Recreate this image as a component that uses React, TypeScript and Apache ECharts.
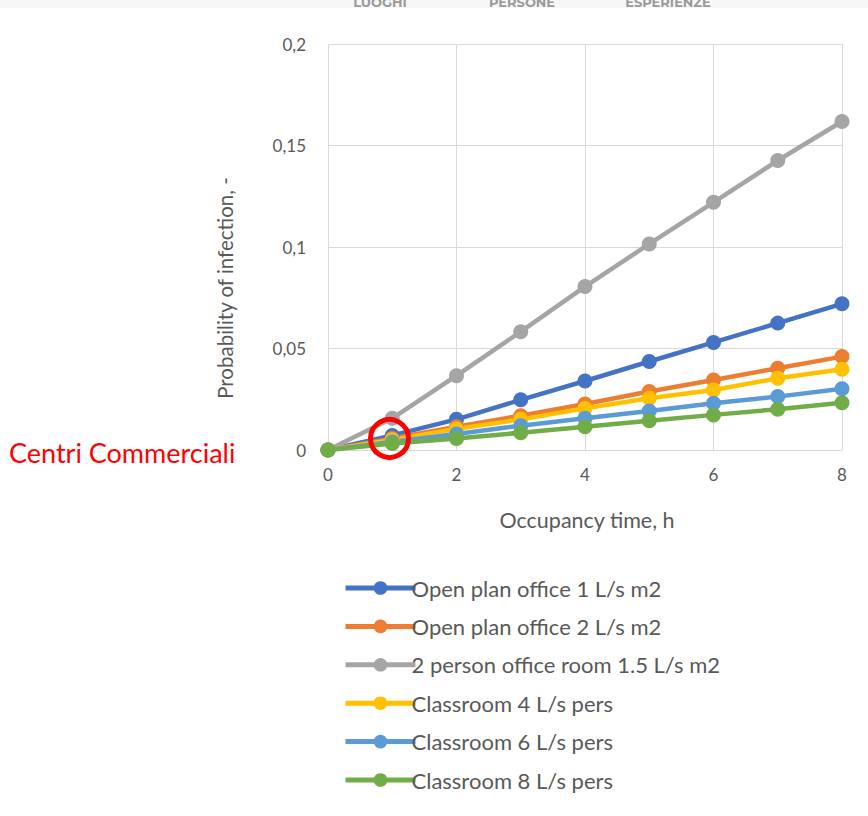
import React, { useEffect, useRef } from "react";
import * as echarts from "echarts";

const hours = [0, 1, 2, 3, 4, 5, 6, 7, 8];
const seriesNames = [
  "Open plan office 1 L/s m2",
  "Open plan office 2 L/s m2",
  "2 person office room 1.5 L/s m2",
  "Classroom 4 L/s pers",
  "Classroom 6 L/s pers",
  "Classroom 8 L/s pers",
];
const openPlan1 = [0, 0.0072, 0.0151, 0.0247, 0.034, 0.0436, 0.053, 0.0625, 0.072];
const openPlan2 = [0, 0.0057, 0.0115, 0.0169, 0.0227, 0.0288, 0.0345, 0.0403, 0.046];
const twoPerson = [0, 0.0156, 0.0366, 0.0583, 0.0805, 0.1015, 0.122, 0.1426, 0.1618];
const classroom4 = [0, 0.005, 0.0104, 0.0151, 0.0205, 0.0255, 0.0296, 0.0353, 0.0398];
const classroom6 = [0, 0.004, 0.0079, 0.012, 0.0156, 0.0192, 0.023, 0.0263, 0.0302];
const classroom8 = [0, 0.0032, 0.0057, 0.0085, 0.0115, 0.0144, 0.0173, 0.0201, 0.0233];
const seriesValues = [openPlan1, openPlan2, twoPerson, classroom4, classroom6, classroom8];
const seriesColors = ["#4472c4", "#ed7d31", "#a5a5a5", "#ffc000", "#5b9bd5", "#70ad47"];
const headerLabels = ["LUOGHI", "PERSONE", "ESPERIENZE"];
const headerX = [380, 522, 668];

const FONT = "Lato";
const TXT = "#595959";

export default function App() {
  const ref = useRef<HTMLDivElement>(null);
  useEffect(() => {
    if (!ref.current) return;
    const chart = echarts.init(ref.current, null, { renderer: "svg" });
    chart.setOption({
      animation: false,
      backgroundColor: "#ffffff",
      textStyle: { fontFamily: FONT },
      grid: { left: 328, right: 26, top: 44, bottom: 366, containLabel: false },
      xAxis: {
        type: "value",
        min: 0,
        max: 8,
        interval: 2,
        axisLine: { show: true, lineStyle: { color: "#d9d9d9", width: 1 } },
        axisTick: { show: false },
        splitLine: { show: true, lineStyle: { color: "#d9d9d9", width: 1 } },
        axisLabel: { color: TXT, fontSize: 17, margin: 16, fontFamily: FONT },
      },
      yAxis: {
        type: "value",
        min: 0,
        max: 0.2,
        interval: 0.05,
        axisLine: { show: false },
        axisTick: { show: false },
        splitLine: { show: true, lineStyle: { color: "#d9d9d9", width: 1 } },
        axisLabel: {
          color: TXT,
          fontSize: 17,
          margin: 22,
          fontFamily: FONT,
          formatter: (v: number) => String(Math.round(v * 100) / 100).replace(".", ","),
        },
      },
      legend: {
        orient: "vertical",
        left: 338,
        top: 572,
        itemWidth: 70,
        itemHeight: 17,
        itemGap: 16.4,
        lineStyle: { width: 5 },
        textStyle: { color: TXT, fontSize: 22, fontFamily: FONT, lineHeight: 20, padding: [0, 0, 0, -9] },
        data: seriesNames,
      },
      series: seriesNames.map((name, i) => ({
        name,
        type: "line",
        data: hours.map((h, j) => [h, seriesValues[i][j]]),
        symbol: "circle",
        symbolSize: 15,
        color: seriesColors[i],
        lineStyle: { width: 4.5, color: seriesColors[i] },
        itemStyle: { color: seriesColors[i] },
      })),
      graphic: [
        { type: "rect", shape: { x: 0, y: 0, width: 868, height: 8 }, style: { fill: "#f7f7f7" }, z: 0 },
        ...headerLabels.map((t, i) => ({
          type: "text",
          x: headerX[i],
          y: 2,
          style: {
            text: t,
            fill: "#9a9a9a",
            font: `bold 13px Montserrat, "Open Sans", sans-serif`,
            textAlign: "center",
            textVerticalAlign: "middle",
          },
        })),
        {
          type: "text",
          x: 225,
          y: 288,
          rotation: Math.PI / 2,
          style: {
            text: "Probability of infection, -",
            fill: TXT,
            font: `20.5px ${FONT}`,
            textAlign: "center",
            textVerticalAlign: "middle",
          },
        },
        {
          type: "text",
          x: 587,
          y: 520,
          style: {
            text: "Occupancy time, h",
            fill: TXT,
            font: `21.5px ${FONT}`,
            textAlign: "center",
            textVerticalAlign: "middle",
          },
        },
        {
          type: "text",
          x: 9,
          y: 452,
          style: {
            text: "Centri Commerciali",
            fill: "#ff0000",
            font: `27px ${FONT}`,
            textAlign: "left",
            textVerticalAlign: "middle",
          },
        },
        {
          type: "circle",
          shape: { cx: 389.5, cy: 438.5, r: 19 },
          style: { fill: "none", stroke: "#ff0000", lineWidth: 5 },
          z: 100,
        },
      ],
    });
    return () => chart.dispose();
  }, []);
  return (
    <div
      ref={ref}
      style={{ position: "absolute", left: 0, top: 0, width: 868, height: 816 }}
    />
  );
}
